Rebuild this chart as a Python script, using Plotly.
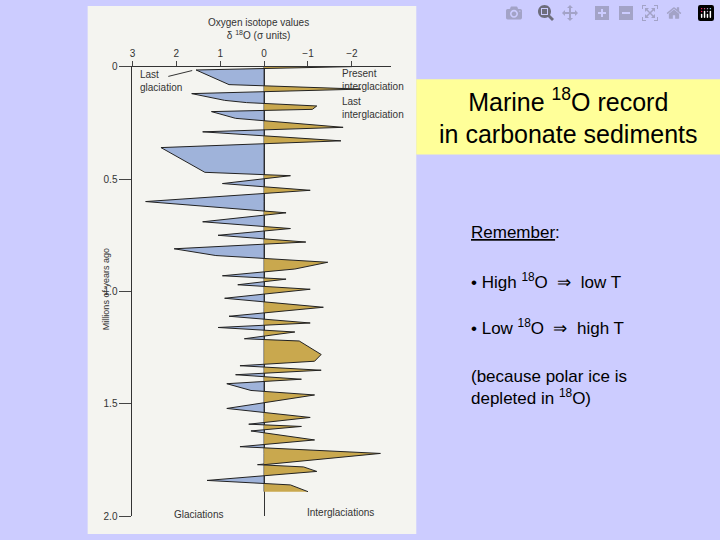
import plotly.graph_objects as go

# oxygen isotope record (age in My, delta 18O)
ages = [0.0, 0.015, 0.08, 0.1, 0.12, 0.15, 0.16, 0.175, 0.19, 0.2, 0.23, 0.27, 0.29, 0.33, 0.36,
        0.47, 0.485, 0.52, 0.55, 0.6, 0.65, 0.69, 0.72, 0.75, 0.78, 0.81, 0.84, 0.87, 0.9,
        0.93, 0.945, 0.97, 0.99, 1.03, 1.07, 1.11, 1.14, 1.16, 1.18, 1.21, 1.22, 1.28, 1.31,
        1.33, 1.35, 1.37, 1.39, 1.41, 1.44, 1.46, 1.52, 1.56, 1.59, 1.6, 1.62, 1.66, 1.69,
        1.72, 1.77, 1.78, 1.8, 1.84, 1.86, 1.89]
d18o = [-2.0, 1.55, 0.8, -2.2, 1.65, 0.9, 0.4, -1.2, -1.1, 1.2, 0.65, -1.8, 1.4, -1.75, 2.35,
        1.35, -0.6, 0.95, -1.05, 2.7, -0.5, 1.4, -0.6, 1.05, -0.95, 2.05, 1.1, -1.45, -0.7,
        0.95, -0.5, 0.6, -1.05, 0.9, -1.35, 0.8, -1.05, 1.05, -0.7, 0.45, -0.8, -1.3, -1.15,
        0.55, -1.3, 0.65, -0.85, 0.85, 0.3, -1.15, 0.85, -1.05, 0.35, -0.85, 0.3, -1.15, 0.55,
        -2.65, 0.15, -0.9, -1.2, 1.3, -0.6, -1.0]

tick_vals = [3, 2, 1, 0, -1, -2]
tick_text = ["3", "2", "1", "0", "\u22121", "\u22122"]
age_ticks = [0, 0.5, 1.0, 1.5, 2.0]
age_text = ["0", "0.5", "1.0", "1.5", "2.0"]

# add zero crossings so both sides can be filled separately
ya, xa = [ages[0]], [d18o[0]]
for i in range(1, len(ages)):
    a0, v0, a1, v1 = ages[i - 1], d18o[i - 1], ages[i], d18o[i]
    if v0 * v1 < 0:
        ya.append(a0 + (a1 - a0) * v0 / (v0 - v1))
        xa.append(0)
    ya.append(a1)
    xa.append(v1)

pos = [max(v, 0) for v in xa]
neg = [min(v, 0) for v in xa]

fig = go.Figure()
fig.add_trace(go.Scatter(x=pos, y=ya, mode="lines", fill="tozerox", fillcolor="#9fb3da",
                         line=dict(color="#222", width=1), hoverinfo="skip"))
fig.add_trace(go.Scatter(x=neg, y=ya, mode="lines", fill="tozerox", fillcolor="#c9a84e",
                         line=dict(color="#222", width=1), hoverinfo="skip"))

W, H = 720, 540
def px(x):
    return x / W
def py(y):
    return 1 - y / H

fig.update_layout(
    width=W, height=H, margin=dict(l=0, r=0, t=0, b=0),
    paper_bgcolor="#ccccff", plot_bgcolor="rgba(0,0,0,0)", showlegend=False,
    font=dict(family="Liberation Sans, Arial", color="#000"),
    xaxis=dict(range=[3, -2.9], domain=[px(130), px(390)], side="top", tickvals=tick_vals,
               ticktext=tick_text, ticks="outside", ticklen=5, showgrid=False, zeroline=True,
               zerolinecolor="#333", zerolinewidth=1, showline=True, linecolor="#333",
               tickfont=dict(size=10, color="#333"), anchor="y"),
    yaxis=dict(range=[2.0, 0], domain=[py(522), py(62)], tickvals=age_ticks, ticktext=age_text,
               ticks="outside", ticklen=12, showgrid=False, zeroline=False, showline=True,
               linecolor="#333", tickfont=dict(size=10, color="#333")),
)

fig.add_shape(type="rect", xref="paper", yref="paper", x0=px(85), x1=px(415), y0=0, y1=1,
              fillcolor="#f4f4f0", line_width=0, layer="below")
fig.add_shape(type="rect", xref="paper", yref="paper", x0=px(415), x1=1, y0=py(152), y1=py(75),
              fillcolor="#ffff99", line_width=0, layer="below")

def note(x, y, text, size=10, color="#333", xanchor="left", angle=0, align="left"):
    fig.add_annotation(xref="paper", yref="paper", x=px(x), y=py(y), text=text, showarrow=False,
                       xanchor=xanchor, yanchor="middle", textangle=angle, align=align,
                       font=dict(size=size, color=color))

note(257, 24, "Oxygen isotope values<br>\u03b4 <sup>18</sup>O (\u03c3 units)", xanchor="center", align="center")
note(136, 77, "Last<br>glaciation")
note(338, 76, "Present<br>interglaciation")
note(338, 104, "Last<br>interglaciation")
note(170, 520, "Glaciations")
note(303, 518, "Interglaciations")
note(103, 290, "Millions of years ago", size=9, angle=-90, xanchor="center")
fig.add_shape(type="line", xref="paper", yref="paper", x0=px(166), y0=py(72), x1=px(190), y1=py(66),
              line=dict(color="#333", width=1))

note(567, 113, "Marine <sup>18</sup>O record<br>in carbonate sediments", size=25, color="#000",
     xanchor="center", align="center")
note(468, 232, "<u>Remember</u>:", size=17, color="#000")
note(468, 281, "\u2022 High <sup>18</sup>O  \u21d2  low T", size=17, color="#000")
note(468, 328, "\u2022 Low <sup>18</sup>O  \u21d2  high T", size=17, color="#000")
note(468, 390, "(because polar ice is<br>depleted in <sup>18</sup>O)", size=17, color="#000")

fig.write_html("out.html", post_script="document.body.style.margin='0';document.body.style.overflow='hidden';")
